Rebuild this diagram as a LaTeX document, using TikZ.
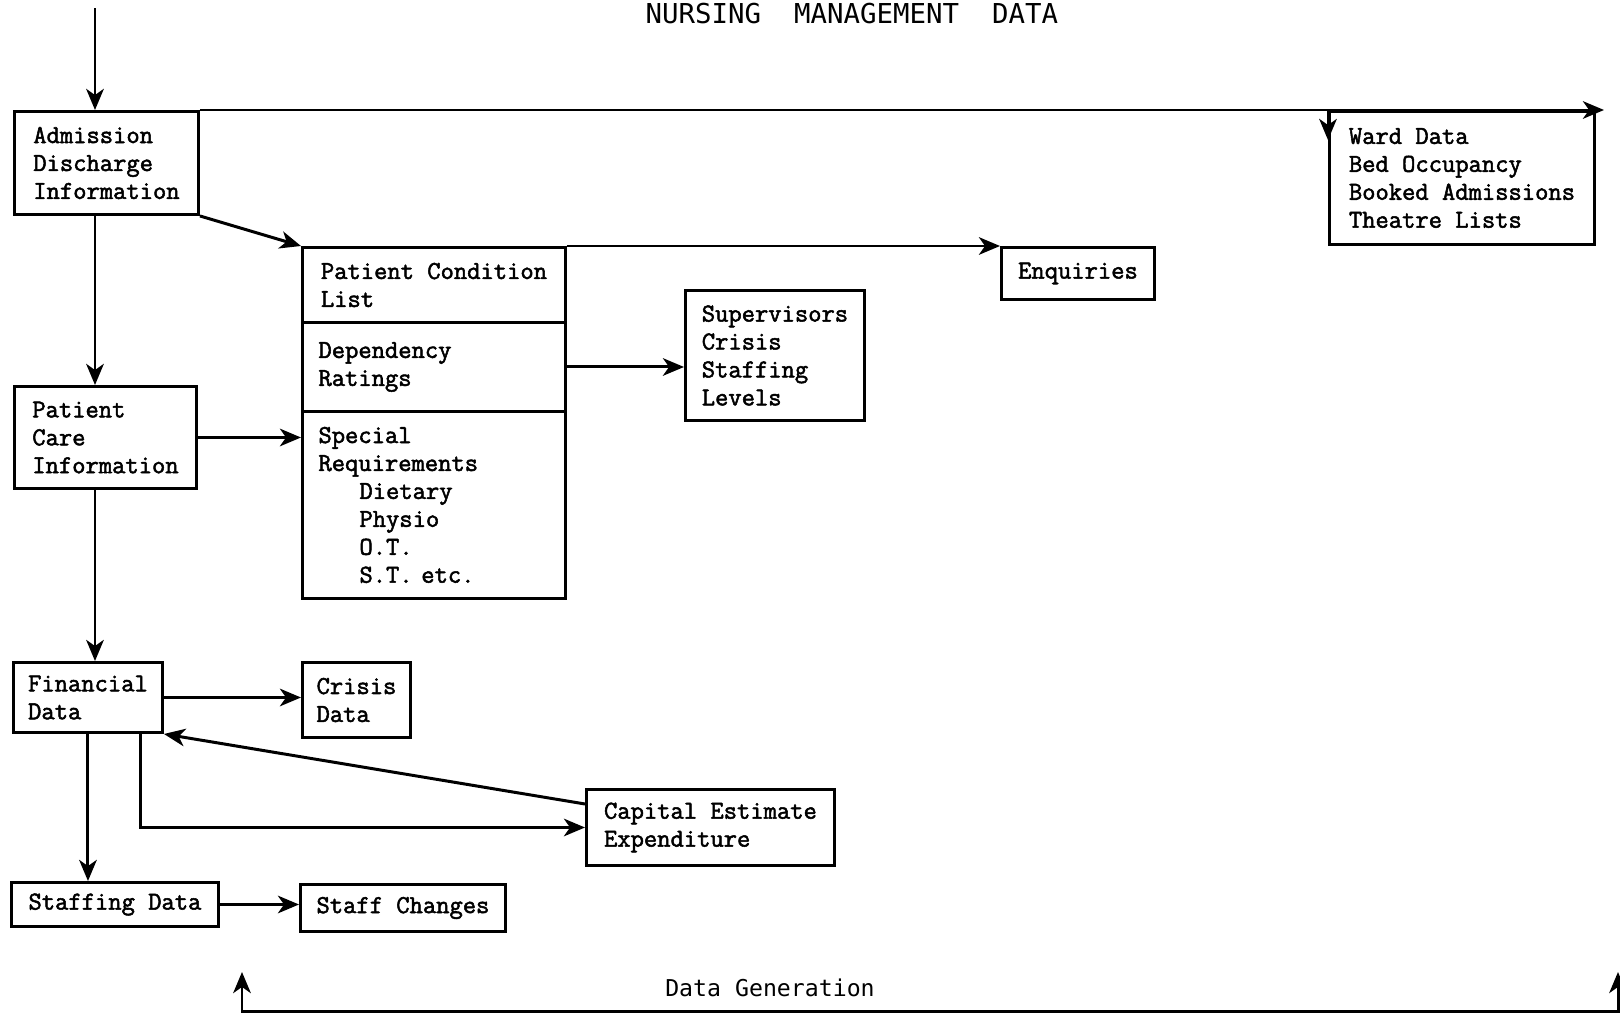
\documentclass[tikz,border=0pt]{standalone}
\usepackage{fontspec}
\usetikzlibrary{arrows.meta}
\newfontfamily\boxfont[FakeBold=2]{Latin Modern Mono}
\newfontfamily\headfont{DejaVu Sans Mono}

\begin{document}
\begin{tikzpicture}[x=0.02cm, y=-0.02cm, line width=1.7pt,
    >={Stealth[length=12pt, width=10pt, inset=3.5pt]},
    box/.style={draw, anchor=north west, align=left, inner ysep=2pt,
        font=\boxfont\fontsize{14.7}{15.9}\selectfont},
    part/.style={box, text width=4.62cm, inner xsep=0.32cm, minimum width=5.26cm}]
    \useasboundingbox (0,0) rectangle (1620,1014);
    \clip (0,0) rectangle (1620,1014);

    \node[font=\headfont\fontsize{15.6}{18}\selectfont, anchor=base] (title) at (852,23) {NURSING\ \ MANAGEMENT\ \ DATA};

    % left column
    \node[box, minimum width=3.68cm, minimum height=2.06cm] (adm) at (13,110) {Admission\\Discharge\\Information};
    \node[box, minimum width=3.64cm, minimum height=2.04cm] (care) at (13,385) {Patient\\Care\\Information};
    \node[box, minimum width=2.98cm, minimum height=1.40cm] (fin) at (12,661) {Financial\\Data};
    \node[box, minimum width=4.14cm, minimum height=0.88cm] (staff) at (10,881) {Staffing Data};

    % middle box
    \node[box, minimum width=5.26cm, minimum height=1.50cm] (pcl) at (301,246) {Patient Condition\\List};
    \node[part, minimum height=1.78cm] (dep) at (301,321) {Dependency\\Ratings};
    \node[part, minimum height=3.74cm] (spec) at (301,410) {Special\\Requirements\\\hspace*{0.82cm}Dietary\\\hspace*{0.82cm}Physio\\\hspace*{0.82cm}O.T.\\\hspace*{0.82cm}S.T. etc.};

    % right side
    \node[box, minimum width=3.06cm, minimum height=1.04cm] (enq) at (1000,246) {Enquiries};
    \node[box, minimum width=3.58cm, minimum height=2.60cm] (sup) at (684,289) {Supervisors\\Crisis\\Staffing\\Levels};
    \node[box, minimum width=5.30cm, minimum height=2.66cm] (ward) at (1328,110) {Ward Data\\Bed Occupancy\\Booked Admissions\\Theatre Lists};
    \node[box, minimum width=2.16cm, minimum height=1.50cm] (crisis) at (301,661) {Crisis\\Data};
    \node[box, minimum width=4.96cm, minimum height=1.52cm] (cap) at (585,788) {Capital Estimate\\Expenditure};
    \node[box, minimum width=4.10cm, minimum height=0.94cm] (chg) at (299,883) {Staff Changes};

    \coordinate (spine) at (95,0);
    \coordinate (top) at (95,8);
    \coordinate (wardend) at (1604,110);
    \coordinate (wardin) at (1328,140);

    \draw[->] (top) -- (top |- adm.north);
    \draw[->] (adm.south -| spine) -- (care.north -| spine);
    \draw[->] (care.south -| spine) -- (fin.north -| spine);
    \draw[->] (fin.south) -- (fin.south |- staff.north);
    \draw[->] (adm.south east) -- (pcl.north west);
    \draw[->] (care.east) -- (care.east -| spec.west);
    \draw[->] (adm.north east) -- (wardend);
    \draw[->] (ward.north west) -- (wardin);
    \draw[->] (pcl.north east) -- (enq.north west);
    \draw[->] (dep.east) -- (dep.east -| sup.west);
    \draw[->] (fin.east) -- (fin.east -| crisis.west);
    \draw[->] ([yshift=-0.32cm]cap.north west) -- (fin.south east);
    \draw[->] ([xshift=1.05cm]fin.south) |- (cap.west);
    \draw[->] (staff.east) -- (staff.east -| chg.west);

    % data generation loop
    \coordinate (genl) at (242,972);
    \coordinate (genb) at (242,1011);
    \coordinate (genr) at (1618,972);
    \draw[<->] (genl) -- (genb) -| (genr);
    \node[font=\headfont\fontsize{13.2}{16}\selectfont, anchor=base] (gen) at (770,996) {Data Generation};
\end{tikzpicture}
\end{document}
